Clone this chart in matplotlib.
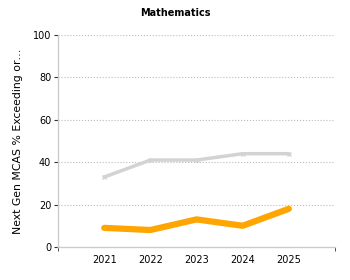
import matplotlib
matplotlib.use('Agg')
import matplotlib.pyplot as plt

years = [2021, 2022, 2023, 2024, 2025]
state_pct = [33, 41, 41, 44, 44]
school_pct = [9, 8, 13, 10, 18]
y_ticks = [0, 20, 40, 60, 80, 100]

plt.rcParams['font.family'] = ['DejaVu Sans']

fig = plt.figure(figsize=(3.5, 2.8), dpi=100)
ax = fig.add_axes([0.166, 0.118, 0.791, 0.757])

ax.plot(years, state_pct, color='#d3d3d3', lw=2.5, marker='x', ms=2.5,
        mew=1, solid_capstyle='round', zorder=3)
ax.plot(years, school_pct, color='#ffa500', lw=4.5,
        solid_capstyle='round', solid_joinstyle='round', zorder=4)

ax.set_xlim(years[0] - 1, years[-1] + 1)
ax.set_ylim(0, 100)
ax.set_yticks(y_ticks)
ax.set_xticks(years)
ax.set_xticks([years[0] - 1, years[-1] + 1], minor=True)
ax.tick_params(axis='x', which='major', length=0, labelsize=7, pad=6)
ax.tick_params(axis='x', which='minor', length=3, color='#333333')
ax.tick_params(axis='y', length=3, color='#333333', labelsize=7, pad=2)

ax.grid(axis='y', color='#bbbbbb', linestyle=':', lw=0.8)
ax.set_axisbelow(True)
for s in ['top', 'right']:
    ax.spines[s].set_visible(False)
for s in ['left', 'bottom']:
    ax.spines[s].set_color('#cccccc')
    ax.spines[s].set_linewidth(1)

ax.set_ylabel('Next Gen MCAS % Exceeding or\u2026', fontsize=7.8, labelpad=7)
fig.text(0.5, 0.955, 'Mathematics', ha='center', va='center',
         fontsize=7, fontweight='bold')

fig.savefig('out.png', dpi=100)
